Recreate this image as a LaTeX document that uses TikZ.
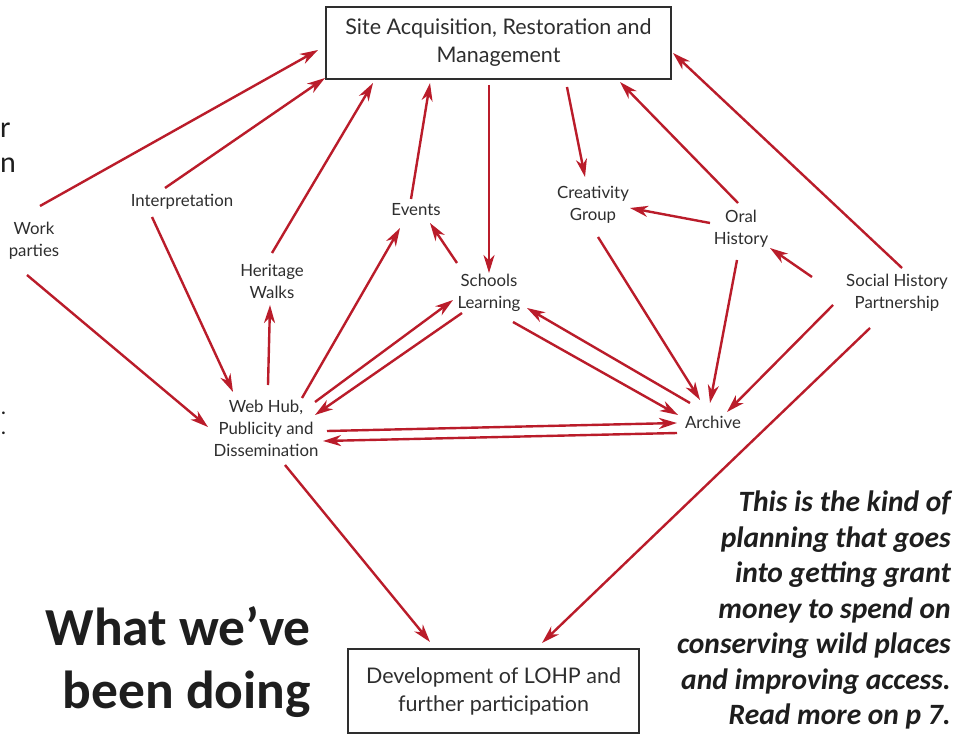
\documentclass[tikz,border=0pt]{standalone}
\usepackage{fontspec}
\setmainfont{Lato}
\newfontfamily\calfont{Carlito}
\usetikzlibrary{arrows.meta}
\definecolor{arrred}{HTML}{BA1C2A}
\definecolor{txtgray}{HTML}{2E2E2E}
\definecolor{inkblack}{HTML}{1E1E1E}
\begin{document}
\begin{tikzpicture}[x=1pt,y=-1pt,
  lbl/.style={font=\fontsize{16.8}{22}\selectfont, text=txtgray, align=center, inner sep=0pt},
  bigbox/.style={draw=txtgray, line width=1.2pt, font=\fontsize{21.5}{28}\selectfont, text=txtgray, align=center, inner sep=0pt},
  arr/.style={draw=arrred, line width=2.4pt, -{Stealth[length=18pt,width=11pt,inset=5.5pt]}},
  frag/.style={font=\calfont\fontsize{30}{36}\selectfont, text=inkblack, inner sep=0pt, anchor=base west},
  dotfrag/.style={font=\calfont\bfseries\fontsize{18}{20}\selectfont, text=inkblack, inner sep=0pt, anchor=base west}]
\useasboundingbox (0,0) rectangle (968,735);
\fill[white] (0,0) rectangle (968,735);

% page fragments at left edge
\node[frag] (f1) at (0,138) {r};
\node[frag] (f2) at (0,173) {n};
\node[dotfrag] (f3) at (1,414) {.};
\node[dotfrag] (f4) at (1,434) {.};

% boxes
\node[bigbox, minimum width=345pt, minimum height=72pt] (top) at (498.5,43) {Site Acquisition, Restoration and\\Management};
\node[bigbox, minimum width=291pt, minimum height=84pt] (bot) at (493.5,691) {Development of LOHP and\\further participation};

% labels
\node[lbl] (wp) at (34,241) {Work\\parties};
\node[lbl] (interp) at (182,202) {Interpretation};
\node[lbl] (hw) at (272,281) {Heritage\\Walks};
\node[lbl] (ev) at (416,210) {Events};
\node[lbl] (sl) at (489,293) {Schools\\Learning};
\node[lbl] (cg) at (593,205) {Creativity\\Group};
\node[lbl] (oh) at (741,229) {Oral\\History};
\node[lbl] (shp) at (897,293) {Social History\\Partnership};
\node[lbl] (web) at (266,428) {Web Hub,\\Publicity and\\Dissemination};
\node[lbl] (arc) at (713,422) {Archive};

% headline and note
\node[font=\calfont\bfseries\fontsize{53.5}{63}\selectfont, text=inkblack, align=right, anchor=north east, inner sep=0pt] (head) at (311,606) {What we’ve\\been doing};
\node[font=\calfont\bfseries\itshape\fontsize{29.5}{35.5}\selectfont, text=inkblack, align=right, anchor=north east, inner sep=0pt] (note) at (951,491) {This is the kind of\\planning that goes\\into getting grant\\money to spend on\\conserving wild places\\and improving access.\\Read more on p 7.};

% connectors
\draw[arr] ([shift={(6,-35)}]wp.center) -- ([shift={(-180.5,7)}]top.center);
\draw[arr] ([shift={(-17,-14)}]interp.center) -- ([shift={(-173.5,35)}]top.center);
\draw[arr] ([shift={(0,-28)}]hw.center) -- ([shift={(-125.5,40)}]top.center);
\draw[arr] ([shift={(-5,-11)}]ev.center) -- ([shift={(-68.5,40)}]top.center);
\draw[arr] ([shift={(-32,-30)}]sl.center) -- ([shift={(14,13)}]ev.center);
\draw[arr] ([shift={(-9.5,42)}]top.center) -- ([shift={(0,-20)}]sl.center);
\draw[arr] ([shift={(68.5,44)}]top.center) -- ([shift={(-8,-28)}]cg.center);
\draw[arr] ([shift={(-3,-26)}]oh.center) -- ([shift={(121.5,39)}]top.center);
\draw[arr] ([shift={(5,-25)}]shp.center) -- ([shift={(174.5,10)}]top.center);
\draw[arr] ([shift={(-31,-6)}]oh.center) -- ([shift={(37,3)}]cg.center);
\draw[arr] ([shift={(-85,-16)}]shp.center) -- ([shift={(29,19)}]oh.center);
\draw[arr] ([shift={(5,32)}]cg.center) -- ([shift={(-13,-22)}]arc.center);
\draw[arr] ([shift={(-4,31)}]oh.center) -- ([shift={(-3,-19)}]arc.center);
\draw[arr] ([shift={(-64,12)}]shp.center) -- ([shift={(14,-10)}]arc.center);
\draw[arr] ([shift={(-27,35)}]shp.center) -- ([shift={(48.5,-48)}]bot.center);
\draw[arr] ([shift={(19,37)}]web.center) -- ([shift={(-63.5,-49)}]bot.center);
\draw[arr] ([shift={(-7,34)}]wp.center) -- ([shift={(-58,-1)}]web.center);
\draw[arr] ([shift={(-30,15)}]interp.center) -- ([shift={(-33,-36)}]web.center);
\draw[arr] ([shift={(2,-43)}]web.center) -- ([shift={(-2,24)}]hw.center);
\draw[arr] ([shift={(36,-30)}]web.center) -- ([shift={(-16,18)}]ev.center);
\draw[arr] ([shift={(49,-26)}]web.center) -- ([shift={(-36,7)}]sl.center);
\draw[arr] ([shift={(-27,20)}]sl.center) -- ([shift={(49,-13)}]web.center);
\draw[arr] ([shift={(-23,-19)}]arc.center) -- ([shift={(38,15)}]sl.center);
\draw[arr] ([shift={(24,29)}]sl.center) -- ([shift={(-35,-7)}]arc.center);
\draw[arr] ([shift={(61,3)}]web.center) -- ([shift={(-36,1)}]arc.center);
\draw[arr] ([shift={(-36,11)}]arc.center) -- ([shift={(57,13)}]web.center);
\end{tikzpicture}
\end{document}
